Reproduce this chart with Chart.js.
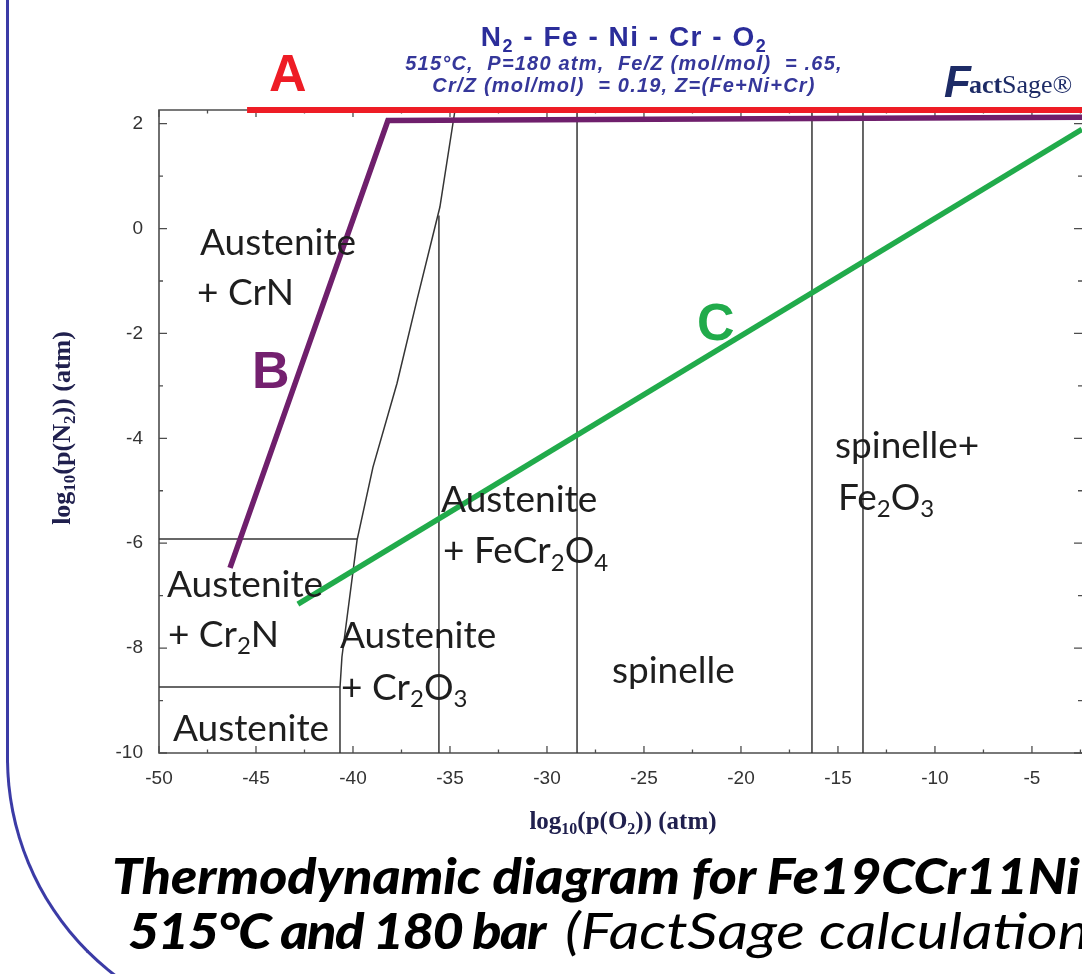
<!DOCTYPE html>
<html>
<head>
<meta charset="utf-8">
<script src="https://cdn.jsdelivr.net/npm/chart.js@4.4.1/dist/chart.umd.min.js"></script>
<style>
html,body{margin:0;padding:0;background:#fff;overflow:hidden;width:1082px;height:974px;}
#wrap{position:relative;width:1082px;height:974px;overflow:hidden;}
#c{position:absolute;left:0;top:0;}
#frame{position:absolute;left:6px;top:-60px;width:1300px;height:1093px;border-left:3px solid #3b3ba6;border-bottom:3px solid #3b3ba6;border-bottom-left-radius:275px;box-sizing:border-box;}
.cap{position:absolute;white-space:nowrap;color:#000;font-family:Lato,"DejaVu Sans",sans-serif;font-style:italic;line-height:1;transform-origin:0 0;font-size:50px;}
#cap1{font-weight:900;left:112px;top:850px;}
#cap2{font-weight:900;left:128px;top:905px;letter-spacing:-1.4px;}
#cap3{font-weight:400;left:565px;top:905px;}
</style>
</head>
<body>
<div id="wrap">
<div id="frame"></div>
<canvas id="c" width="1082" height="974"></canvas>
<div id="cap1" class="cap">Thermodynamic diagram for Fe19CCr11Ni</div>
<div id="cap2" class="cap">515°C and 180 bar</div>
<div id="cap3" class="cap"><span id="cap3a">(FactSage calculation</span>)</div>
</div>
<script>
// ---------- data ----------
const xMin = -50, xMax = -2.42, yMin = -10, yMax = 2.26;
const xTicks = [-50, -45, -40, -35, -30, -25, -20, -15, -10, -5];
const yTicks = [2, 0, -2, -4, -6, -8, -10];

const lineA = [{x:-45.46, y:2.26}, {x:-2.42, y:2.26}];
const lineB = [{x:-46.34, y:-6.47}, {x:-38.2, y:2.06}, {x:-2.42, y:2.12}];
const lineC = [{x:-42.84, y:-7.16}, {x:-2.42, y:1.89}];

const boundaryCurve = [
  {x:-34.74, y:2.26}, {x:-35.52, y:0.41}, {x:-36.70, y:-1.36}, {x:-37.73, y:-2.95},
  {x:-38.97, y:-4.55}, {x:-39.79, y:-5.94}, {x:-40.57, y:-8.17}, {x:-40.67, y:-8.76}, {x:-40.67, y:-10}
];
const boundaryH1 = [{x:-50, y:-5.92}, {x:-39.79, y:-5.92}];
const boundaryH2 = [{x:-50, y:-8.74}, {x:-40.67, y:-8.74}];
const boundaryV1 = [{x:-35.57, y:0.25}, {x:-35.57, y:-10}];
const boundaryV2 = [{x:-28.45, y:2.26}, {x:-28.45, y:-10}];
const boundaryV3 = [{x:-16.34, y:2.26}, {x:-16.34, y:-10}];
const boundaryV4 = [{x:-13.71, y:2.26}, {x:-13.71, y:-10}];

const regionText = ["Austenite", "+ CrN", "Austenite", "+ Cr_2N", "Austenite", "Austenite", "+ Cr_2O_3",
                    "Austenite", "+ FeCr_2O_4", "spinelle", "spinelle+", "Fe_2O_3"];
const regionX = [-47.89, -48.04, -49.59, -49.54, -49.28, -40.67, -40.62, -35.46, -35.36, -26.65, -15.15, -15.0];
const regionY = [-0.50, -1.45, -7.03, -7.98, -9.77, -8.00, -8.99, -5.40, -6.38, -8.67, -4.37, -5.36];

const letterText = ["A", "B", "C"];
const letterX = [-44.33, -45.21, -22.27];
const letterY = [2.63, -3.04, -2.12];
const letterColor = ["#ee1c25", "#74206f", "#21ab4b"];

// ---------- helpers ----------
function richParts(s){
  const out = [];
  for (let i = 0; i < s.length; i++){
    if (s[i] === '_'){ out.push({t:s[i+1], sub:true}); i++; }
    else {
      const last = out[out.length-1];
      if (last && !last.sub) last.t += s[i]; else out.push({t:s[i], sub:false});
    }
  }
  return out;
}
function drawRich(ctx, s, x, y, fontFn, size, align){
  const parts = richParts(s);
  const subSize = Math.round(size*0.65);
  let w = 0;
  parts.forEach(p => { ctx.font = fontFn(p.sub ? subSize : size); p.w = ctx.measureText(p.t).width; w += p.w; });
  let cx = align === 'center' ? x - w/2 : x;
  ctx.textAlign = 'left'; ctx.textBaseline = 'alphabetic';
  parts.forEach(p => {
    ctx.font = fontFn(p.sub ? subSize : size);
    ctx.fillText(p.t, cx, p.sub ? y + size*0.2 : y);
    cx += p.w;
  });
}

const decor = {
  id: 'decor',
  beforeDatasetsDraw(chart){
    const {ctx, chartArea:a, scales:{x, y}} = chart;
    ctx.save();
    ctx.strokeStyle = '#4d4d4d';
    ctx.lineWidth = 1.6;
    ctx.beginPath();
    ctx.moveTo(a.right, a.top); ctx.lineTo(a.left, a.top); ctx.lineTo(a.left, a.bottom); ctx.lineTo(a.right, a.bottom);
    ctx.stroke();
    ctx.lineWidth = 1.3;
    ctx.beginPath();
    for (let i = 0; ; i++){
      const v = xMin + i*2.5; if (v > xMax) break;
      const px = x.getPixelForValue(v);
      const L = (i % 2 === 0) ? 7 : 3.5;
      ctx.moveTo(px, a.bottom); ctx.lineTo(px, a.bottom - L);
      ctx.moveTo(px, a.top); ctx.lineTo(px, a.top + L);
    }
    for (let v = yMin; v <= 2; v++){
      const py = y.getPixelForValue(v);
      const L = (v % 2 === 0) ? 8 : 4;
      ctx.moveTo(a.left, py); ctx.lineTo(a.left + L, py);
      ctx.moveTo(a.right, py); ctx.lineTo(a.right - L, py);
    }
    ctx.stroke();
    ctx.restore();
  },
  afterDraw(chart){
    const {ctx, chartArea:a, scales:{x, y}} = chart;
    ctx.save();
    // region labels
    ctx.fillStyle = '#1e1e1e';
    const lab = sz => `${sz}px Lato, "Open Sans", sans-serif`;
    regionText.forEach((t, i) => drawRich(ctx, t, x.getPixelForValue(regionX[i]), y.getPixelForValue(regionY[i]), lab, 37, 'left'));
    // letters
    letterText.forEach((t, i) => {
      ctx.fillStyle = letterColor[i];
      ctx.font = 'bold 52px "Liberation Sans", Arial, sans-serif';
      ctx.textAlign = 'left'; ctx.textBaseline = 'alphabetic';
      ctx.fillText(t, x.getPixelForValue(letterX[i]), y.getPixelForValue(letterY[i]));
    });
    // title block
    const cx = 624;
    ctx.fillStyle = '#2b2d9a';
    ctx.letterSpacing = '1.5px';
    drawRich(ctx, "N_2 - Fe - Ni - Cr - O_2", cx, 46, sz => `bold ${sz}px "Liberation Sans", Arial, sans-serif`, 28, 'center');
    ctx.fillStyle = '#35379a';
    ctx.letterSpacing = '1.2px';
    ctx.font = 'italic bold 20px "Liberation Sans", Arial, sans-serif';
    ctx.textAlign = 'center';
    ctx.fillText("515°C,  P=180 atm,  Fe/Z (mol/mol)  = .65,", cx, 70);
    ctx.fillText("Cr/Z (mol/mol)  = 0.19, Z=(Fe+Ni+Cr)", cx, 92);
    ctx.letterSpacing = '0px';
    // FactSage logo text
    ctx.textAlign = 'left';
    ctx.fillStyle = '#1d2b66';
    ctx.font = 'italic bold 44px "Liberation Sans", Arial, sans-serif';
    ctx.fillText("F", 944, 97);
    let lx = 944 + ctx.measureText("F").width - 2;
    ctx.font = 'bold 26px "Liberation Serif", serif';
    ctx.fillText("act", lx, 93);
    lx += ctx.measureText("act").width;
    ctx.font = '26px "Liberation Serif", serif';
    ctx.fillText("Sage®", lx, 93);
    // axis titles
    ctx.fillStyle = '#20204e';
    const ser = sz => `bold ${sz}px "Liberation Serif", "DejaVu Serif", serif`;
    drawRich(ctx, "log_1_0(p(O_2)) (atm)", 623, 829, ser, 25, 'center');
    ctx.save();
    ctx.translate(70, 428);
    ctx.rotate(-Math.PI/2);
    drawRich(ctx, "log_1_0(p(N_2)) (atm)", 0, 0, ser, 26, 'center');
    ctx.restore();
    ctx.restore();
  }
};

const thick = (data, color, w) => ({data, borderColor:color, borderWidth:w, showLine:true, pointRadius:0, fill:false, clip:false, tension:0, borderJoinStyle:'miter', borderCapStyle:'butt'});
const thin = (data) => ({data, borderColor:'#353535', borderWidth:1.5, showLine:true, pointRadius:0, fill:false, clip:false, tension:0});

new Chart(document.getElementById('c'), {
  type: 'scatter',
  data: {
    datasets: [
      thick(lineA, '#ee1c25', 6),
      thick(lineB, '#6f1f6c', 5.5),
      thick(lineC, '#21ab4b', 5.5),
      thin(boundaryCurve), thin(boundaryH1), thin(boundaryH2),
      thin(boundaryV1), thin(boundaryV2), thin(boundaryV3), thin(boundaryV4)
    ]
  },
  options: {
    responsive: false,
    animation: false,
    devicePixelRatio: 1,
    layout: {padding: {top:110, left:0, right:0, bottom:0}},
    plugins: {legend:{display:false}, tooltip:{enabled:false}, title:{display:false}},
    scales: {
      x: {
        type:'linear', min:xMin, max:xMax,
        grid:{display:false, drawTicks:false}, border:{display:false},
        ticks:{color:'#333', font:{family:'"Liberation Sans", Arial, sans-serif', size:19}, padding:14, maxRotation:0, includeBounds:false},
        afterBuildTicks: s => { s.ticks = xTicks.map(v => ({value:v})); },
        afterFit: s => { s.height = 221; }
      },
      y: {
        type:'linear', min:yMin, max:yMax,
        grid:{display:false, drawTicks:false}, border:{display:false},
        ticks:{color:'#333', font:{family:'"Liberation Sans", Arial, sans-serif', size:19}, padding:16, includeBounds:false},
        afterBuildTicks: s => { s.ticks = yTicks.map(v => ({value:v})); },
        afterFit: s => { s.width = 159; }
      }
    }
  },
  plugins: [decor]
});

// fit caption widths to the reference
(function(){
  const c1 = document.getElementById('cap1');
  const c2 = document.getElementById('cap2');
  const c3 = document.getElementById('cap3');
  const c3a = document.getElementById('cap3a');
  const k = 968 / c1.scrollWidth;
  c1.style.transform = `scaleX(${k})`;
  c2.style.transform = `scaleX(${417 / c2.scrollWidth})`;
  c3.style.transform = `scaleX(${524 / c3a.getBoundingClientRect().width})`;
})();
</script>
</body>
</html>
